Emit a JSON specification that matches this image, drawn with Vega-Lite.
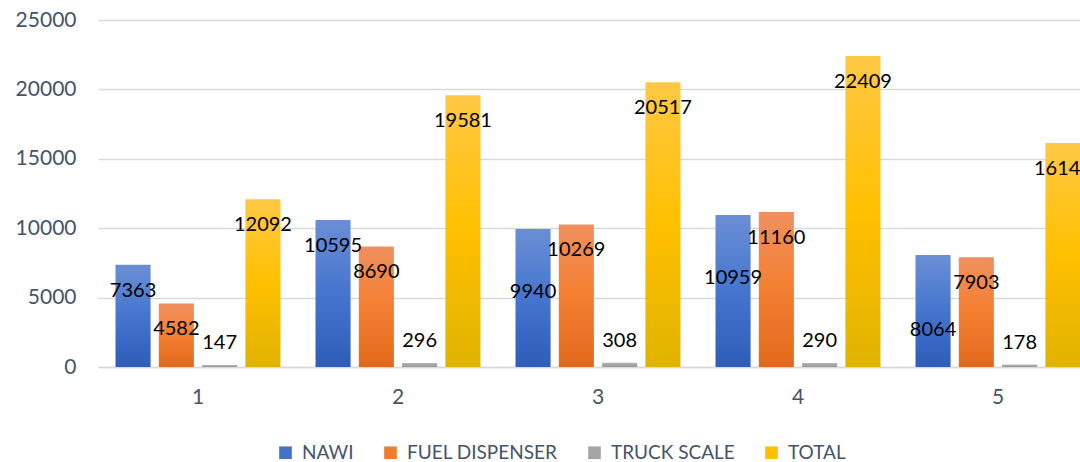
{
  "$schema": "https://vega.github.io/schema/vega-lite/v6.json",
  "autosize": {"type": "none"},
  "padding": {"left": 98, "top": 20, "right": 0, "bottom": 95},
  "width": 982,
  "height": 347,
  "background": "white",
  "config": {
    "view": {"stroke": null},
    "font": "Lato",
    "axis": {"labelFont": "Lato", "labelColor": "#44546A", "labelFontSize": 21, "ticks": false, "title": null}
  },
  "data": {
    "values": [
      {"group": "1", "series": "NAWI", "value": 7363},
      {"group": "1", "series": "FUEL DISPENSER", "value": 4582},
      {"group": "1", "series": "TRUCK SCALE", "value": 147},
      {"group": "1", "series": "TOTAL", "value": 12092},
      {"group": "2", "series": "NAWI", "value": 10595},
      {"group": "2", "series": "FUEL DISPENSER", "value": 8690},
      {"group": "2", "series": "TRUCK SCALE", "value": 296},
      {"group": "2", "series": "TOTAL", "value": 19581},
      {"group": "3", "series": "NAWI", "value": 9940},
      {"group": "3", "series": "FUEL DISPENSER", "value": 10269},
      {"group": "3", "series": "TRUCK SCALE", "value": 308},
      {"group": "3", "series": "TOTAL", "value": 20517},
      {"group": "4", "series": "NAWI", "value": 10959},
      {"group": "4", "series": "FUEL DISPENSER", "value": 11160},
      {"group": "4", "series": "TRUCK SCALE", "value": 290},
      {"group": "4", "series": "TOTAL", "value": 22409},
      {"group": "5", "series": "NAWI", "value": 8064},
      {"group": "5", "series": "FUEL DISPENSER", "value": 7903},
      {"group": "5", "series": "TRUCK SCALE", "value": 178},
      {"group": "5", "series": "TOTAL", "value": 16145}
    ]
  },
  "encoding": {
    "x": {
      "field": "group", "type": "nominal",
      "scale": {"range": [0, 1000], "paddingInner": 0.175, "paddingOuter": 0.0875},
      "axis": {"labelAngle": 0, "labelPadding": 19, "domainColor": "#D9D9D9", "domainWidth": 1.5, "grid": false}
    },
    "xOffset": {
      "field": "series", "type": "nominal",
      "sort": ["NAWI", "FUEL DISPENSER", "TRUCK SCALE", "TOTAL"],
      "scale": {"paddingInner": 0.19, "paddingOuter": 0}
    },
    "y": {
      "field": "value", "type": "quantitative",
      "scale": {"domain": [0, 25000], "nice": false},
      "axis": {"values": [0, 5000, 10000, 15000, 20000, 25000], "domain": false, "gridColor": "#D9D9D9", "gridWidth": 1.5, "labelPadding": 22, "format": "d"}
    }
  },
  "layer": [
    {
      "mark": {"type": "bar"},
      "encoding": {
        "color": {
          "field": "series", "type": "nominal",
          "sort": ["NAWI", "FUEL DISPENSER", "TRUCK SCALE", "TOTAL"],
          "scale": {"domain": ["NAWI", "FUEL DISPENSER", "TRUCK SCALE", "TOTAL"], "range": ["#4472C4", "#ED7D31", "#A5A5A5", "#FFC000"]},
          "condition": [
            {"test": "datum.series === 'NAWI'", "value": {"gradient": "linear", "x1": 0, "y1": 0, "x2": 0, "y2": 1, "stops": [{"offset": 0, "color": "#6B8FD5"}, {"offset": 0.5, "color": "#4575CF"}, {"offset": 1, "color": "#2E5DB9"}]}},
            {"test": "datum.series === 'FUEL DISPENSER'", "value": {"gradient": "linear", "x1": 0, "y1": 0, "x2": 0, "y2": 1, "stops": [{"offset": 0, "color": "#F0905E"}, {"offset": 0.5, "color": "#F47F30"}, {"offset": 1, "color": "#E2691B"}]}},
            {"test": "datum.series === 'TRUCK SCALE'", "value": {"gradient": "linear", "x1": 0, "y1": 0, "x2": 0, "y2": 1, "stops": [{"offset": 0, "color": "#B5B5B5"}, {"offset": 1, "color": "#989898"}]}},
            {"test": "datum.series === 'TOTAL'", "value": {"gradient": "linear", "x1": 0, "y1": 0, "x2": 0, "y2": 1, "stops": [{"offset": 0, "color": "#FFC845"}, {"offset": 0.5, "color": "#FFC000"}, {"offset": 1, "color": "#E0B300"}]}}
          ],
          "legend": {
            "title": null, "orient": "none", "direction": "horizontal",
            "legendX": 178, "legendY": 423,
            "symbolType": "square", "symbolSize": 160, "symbolStrokeWidth": 0,
            "labelFont": "Lato", "labelFontSize": 19, "labelColor": "#44546A",
            "columnPadding": 27, "labelOffset": 7
          }
        }
      }
    },
    {
      "transform": [{"filter": "datum.series !== 'TRUCK SCALE' && datum.value !== 9940 && datum.value !== 10959 && datum.value !== 8064"}],
      "mark": {"type": "text", "baseline": "middle", "dy": 26, "fontSize": 20, "color": "#000000", "font": "Lato"},
      "encoding": {"text": {"field": "value", "type": "quantitative", "format": "d"}}
    },
    {
      "transform": [{"filter": "datum.series === 'TRUCK SCALE'"}],
      "mark": {"type": "text", "baseline": "middle", "dy": -22, "fontSize": 20, "color": "#000000", "font": "Lato"},
      "encoding": {"text": {"field": "value", "type": "quantitative", "format": "d"}}
    },
    {
      "transform": [{"filter": "datum.value === 9940 || datum.value === 10959"}],
      "mark": {"type": "text", "baseline": "middle", "dy": 63, "fontSize": 20, "color": "#000000", "font": "Lato"},
      "encoding": {"text": {"field": "value", "type": "quantitative", "format": "d"}}
    },
    {
      "transform": [{"filter": "datum.value === 8064"}],
      "mark": {"type": "text", "baseline": "middle", "dy": 75, "fontSize": 20, "color": "#000000", "font": "Lato"},
      "encoding": {"text": {"field": "value", "type": "quantitative", "format": "d"}}
    }
  ]
}
